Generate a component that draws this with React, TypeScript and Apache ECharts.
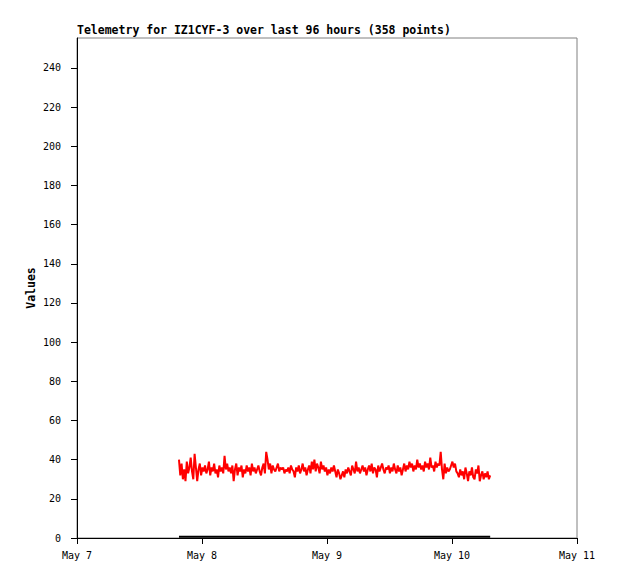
import React, { useEffect, useRef } from "react";
import * as echarts from "echarts";

// hours since May 7 00:00
const startHour = 19.58;
const stepHours = 0.25;
const dayLabels = ["May 7", "May 8", "May 9", "May 10", "May 11"];
const yTicks = [0, 20, 40, 60, 80, 100, 120, 140, 160, 180, 200, 220, 240];

const telemetryValues = [
  40, 32, 38, 30, 35, 29, 39, 33, 36, 41, 34, 30, 43, 36, 29, 35, 38, 32, 36, 34, 37, 33, 35, 39, 32, 36, 34, 38, 33, 35, 31, 37, 34, 36, 33, 42, 35, 38, 34, 36,
  33, 37, 29, 35, 38, 32, 36, 34, 37, 31, 35, 33, 37, 34, 36, 32, 38, 34, 36, 33, 35, 37, 34, 32, 36, 38, 33, 44, 40, 35, 38, 33, 37, 35, 34, 36, 38, 34, 36, 35,
  36, 33, 35, 34, 36, 33, 37, 35, 34, 31, 36, 34, 37, 33, 35, 38, 34, 36, 32, 35, 37, 33, 39, 35, 40, 34, 38, 36, 33, 39, 35, 37, 34, 36, 32, 35, 33, 36, 34, 37,
  34, 31, 35, 33, 30, 32, 34, 31, 35, 33, 36, 34, 32, 37, 35, 33, 39, 34, 36, 33, 35, 37, 34, 36, 32, 35, 37, 34, 38, 33, 36, 35, 31, 37, 34, 36, 38, 35, 33, 36,
  35, 37, 33, 36, 34, 38, 35, 33, 37, 34, 36, 32, 35, 38, 34, 37, 35, 39, 36, 38, 34, 37, 35, 40, 36, 38, 35, 37, 34, 39, 36, 38, 35, 41, 36, 37, 34, 39, 36, 38,
  37, 44, 35, 30, 38, 33, 36, 34, 35, 37, 39, 36, 38, 34, 33, 31, 35, 32, 34, 30, 36, 33, 29, 34, 32, 36, 31, 30, 35, 33, 37, 29, 32, 34, 30, 33, 31, 34, 30, 32,
];
const baselineValue = 0.6;

export default function App() {
  const ref = useRef<HTMLDivElement>(null);
  useEffect(() => {
    if (!ref.current) return;
    const chart = echarts.init(ref.current, null, { renderer: "svg" });
    const redData = telemetryValues.map((v, i) => [startHour + i * stepHours, v]);
    const endHour = startHour + (telemetryValues.length - 1) * stepHours;
    const blackData = [
      [startHour, baselineValue],
      [endHour, baselineValue],
    ];
    const font = "'DejaVu Sans Mono', monospace";
    chart.setOption({
      animation: false,
      backgroundColor: "#ffffff",
      title: {
        text: "Telemetry for IZ1CYF-3 over last 96 hours (358 points)",
        left: 72,
        top: 19,
        textStyle: { fontFamily: font, fontSize: 11.5, fontWeight: "bold", color: "#000" },
      },
      grid: {
        left: 77,
        top: 38,
        right: 41,
        bottom: 41,
        show: true,
        borderColor: "#808080",
        borderWidth: 1,
        backgroundColor: "transparent",
      },
      xAxis: {
        type: "value",
        min: 0,
        max: 96,
        interval: 24,
        axisLine: { show: true, onZero: false, lineStyle: { color: "#000", width: 1 } },
        axisTick: { show: true, length: 6, inside: false, lineStyle: { color: "#000" } },
        splitLine: { show: false },
        axisLabel: {
          margin: 12,
          fontFamily: font,
          fontSize: 10,
          color: "#000",
          formatter: (v: number) => dayLabels[Math.round(v / 24)] ?? "",
        },
      },
      yAxis: {
        type: "value",
        min: 0,
        max: 255.3,
        interval: 20,
        name: "Values",
        nameLocation: "middle",
        nameGap: 40,
        nameMoveOverlap: false,
        nameTextStyle: { fontFamily: font, fontSize: 11.5, fontWeight: "bold", color: "#000" },
        axisLine: { show: true, lineStyle: { color: "#000", width: 1 } },
        axisTick: {
          show: true,
          length: 6,
          lineStyle: { color: "#000" },
          customValues: yTicks,
        },
        splitLine: { show: false },
        axisLabel: {
          margin: 16,
          fontFamily: font,
          fontSize: 10,
          color: "#000",
          customValues: yTicks,
        },
      },
      series: [
        {
          type: "line",
          data: blackData,
          showSymbol: false,
          symbol: "none",
          lineStyle: { color: "#000", width: 2 },
          z: 2,
        },
        {
          type: "line",
          data: redData,
          showSymbol: false,
          symbol: "none",
          lineStyle: { color: "#ff0000", width: 2 },
          z: 3,
        },
      ],
    });
    return () => chart.dispose();
  }, []);
  return (
    <div
      ref={ref}
      style={{ position: "fixed", left: 0, top: 0, width: 618, height: 579, background: "#fff" }}
    />
  );
}
